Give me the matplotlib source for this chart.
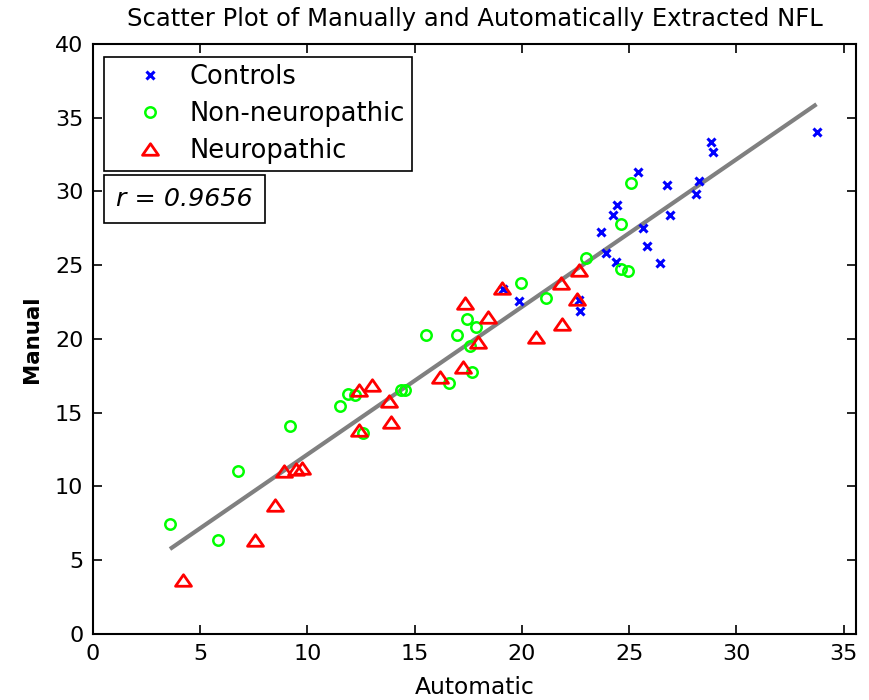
import matplotlib
matplotlib.use("Agg")
import matplotlib.pyplot as plt
import numpy as np
from matplotlib.path import Path

# Automatic vs manual NFL measurements per group
controls_auto = [33.74, 28.83, 28.89, 25.43, 26.75, 28.24, 28.13, 24.45, 24.23, 26.89,
                 23.67, 25.63, 25.82, 23.94, 24.40, 26.45, 19.85, 22.65, 22.69, 19.10]
controls_manual = [34.03, 33.34, 32.70, 31.32, 30.44, 30.71, 29.85, 29.08, 28.41, 28.39,
                   27.27, 27.53, 26.31, 25.85, 25.20, 25.17, 22.58, 22.64, 21.92, 23.40]

nonneuro_auto = [25.07, 24.62, 22.97, 24.60, 24.94, 19.98, 21.14, 17.46, 17.88, 16.99,
                 15.52, 17.60, 17.69, 16.60, 14.38, 14.54, 11.90, 12.20, 11.51, 9.21,
                 12.60, 3.59, 5.81, 6.74]
nonneuro_manual = [30.56, 27.78, 25.47, 24.72, 24.63, 23.78, 22.80, 21.33, 20.84, 20.27,
                   20.27, 19.50, 17.78, 17.00, 16.54, 16.54, 16.27, 16.20, 15.46, 14.10,
                   13.65, 7.46, 6.35, 11.07]

neuro_auto = [22.66, 21.84, 19.09, 17.33, 22.58, 18.42, 21.89, 20.64, 17.95, 17.26,
              16.17, 12.99, 12.41, 13.81, 13.89, 12.41, 8.90, 9.45, 9.75, 8.48,
              7.55, 4.21]
neuro_manual = [24.68, 23.78, 23.44, 22.46, 22.69, 21.47, 21.02, 20.11, 19.82, 18.12,
                17.40, 16.88, 16.54, 15.82, 14.40, 13.83, 11.07, 11.20, 11.25, 8.75,
                6.37, 3.66]

# Least-squares line and correlation
fit_slope = 1.0
fit_intercept = 2.17
r_value = 0.9656

x_ticks = [0, 5, 10, 15, 20, 25, 30, 35]
y_ticks = [0, 5, 10, 15, 20, 25, 30, 35, 40]

plt.rcParams["font.family"] = ["DejaVu Sans"]

# Wide, flat triangle marker
tri = Path([(0, 0.72), (-1, -0.72), (1, -0.72), (0, 0.72)], closed=True)

fig = plt.figure(figsize=(8.69, 7.0), dpi=100)
ax = fig.add_axes([0.107, 0.0943, 0.878, 0.843])

all_auto = np.array(controls_auto + nonneuro_auto + neuro_auto)
xs = np.array([all_auto.min(), all_auto.max()])
ax.plot(xs, fit_slope * xs + fit_intercept, color=(0.5, 0.5, 0.5), lw=3.0,
        solid_capstyle="butt", zorder=3)

h1, = ax.plot(controls_auto, controls_manual, "x", color="#0000ff", ms=6, mew=2.2,
              ls="none", label="Controls", zorder=4)
h2, = ax.plot(nonneuro_auto, nonneuro_manual, "o", mfc="none", mec="#00ff00", ms=7.5,
              mew=1.8, ls="none", label="Non-neuropathic", zorder=4)
h3, = ax.plot(neuro_auto, neuro_manual, marker=tri, mfc="none", mec="#ff0000", ms=11.5,
              mew=2.0, ls="none", label="Neuropathic", zorder=4)

ax.set_xlim(0, 35.58)
ax.set_ylim(0, 40)
ax.set_xticks(x_ticks)
ax.set_yticks(y_ticks)
ax.tick_params(direction="in", length=6.5, width=1.2, top=True, right=True,
               labelsize=16, pad=7)
for s in ax.spines.values():
    s.set_linewidth(1.5)

ax.set_title("Scatter Plot of Manually and Automatically Extracted NFL",
             fontsize=17.5, pad=13)
ax.set_xlabel("Automatic", fontsize=16.8, labelpad=9)
ax.set_ylabel("Manual", fontsize=15.4, weight="bold", labelpad=9.5)

leg = ax.legend(handles=[h1, h2, h3], loc="upper left", bbox_to_anchor=(0.0144, 0.978),
                frameon=True, fancybox=False, framealpha=1, edgecolor="black",
                prop={"size": 18.5}, handlelength=3.05, handletextpad=0.0,
                borderpad=0.27, labelspacing=0.43, borderaxespad=0)
leg.get_frame().set_linewidth(1.2)

ax.text(0.0304, 0.737, f"r = {r_value:.4f}", transform=ax.transAxes, fontsize=18.3,
        style="italic", va="center", ha="left",
        bbox=dict(boxstyle="square,pad=0.48", fc="white", ec="black", lw=1.2))

fig.savefig("out.png", dpi=100)
